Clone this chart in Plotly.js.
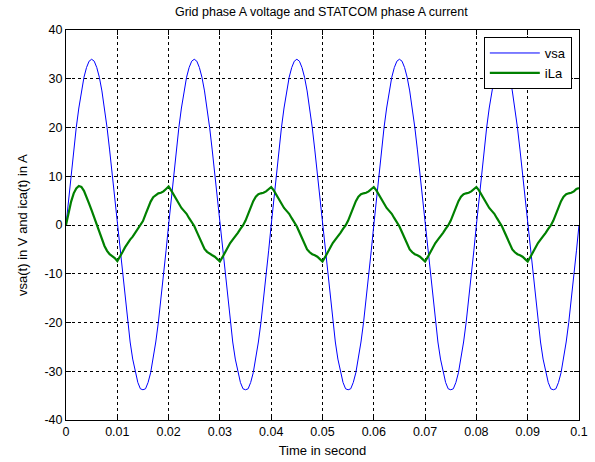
<!DOCTYPE html>
<html>
<head>
<meta charset="utf-8">
<script src="https://cdn.plot.ly/plotly-3.0.1.min.js"></script>
<style>html,body{margin:0;padding:0;background:#fff;}#chart{width:595px;height:462px;}</style>
</head>
<body>
<div id="chart"></div>
<script>
// Sample spacing 0.0005 s, starting at t = 0
var t0 = 0;
var dt = 0.0005;

// Grid phase A voltage (V)
var vsa = [
 0,5.3,10.5,15.4,20.0,24.0,27.5,30.3,32.3,33.6,34.0,33.6,32.3,30.3,27.5,24.0,20.0,15.4,10.5,5.3,
 0,-5.3,-10.5,-15.4,-20.0,-24.0,-27.5,-30.3,-32.3,-33.6,-33.8,-33.6,-32.3,-30.3,-27.5,-24.0,-20.0,-15.4,-10.5,-5.3,
 0,5.3,10.5,15.4,20.0,24.0,27.5,30.3,32.3,33.6,34.0,33.6,32.3,30.3,27.5,24.0,20.0,15.4,10.5,5.3,
 0,-5.3,-10.5,-15.4,-20.0,-24.0,-27.5,-30.3,-32.3,-33.6,-33.8,-33.6,-32.3,-30.3,-27.5,-24.0,-20.0,-15.4,-10.5,-5.3,
 0,5.3,10.5,15.4,20.0,24.0,27.5,30.3,32.3,33.6,34.0,33.6,32.3,30.3,27.5,24.0,20.0,15.4,10.5,5.3,
 0,-5.3,-10.5,-15.4,-20.0,-24.0,-27.5,-30.3,-32.3,-33.6,-33.8,-33.6,-32.3,-30.3,-27.5,-24.0,-20.0,-15.4,-10.5,-5.3,
 0,5.3,10.5,15.4,20.0,24.0,27.5,30.3,32.3,33.6,34.0,33.6,32.3,30.3,27.5,24.0,20.0,15.4,10.5,5.3,
 0,-5.3,-10.5,-15.4,-20.0,-24.0,-27.5,-30.3,-32.3,-33.6,-33.8,-33.6,-32.3,-30.3,-27.5,-24.0,-20.0,-15.4,-10.5,-5.3,
 0,5.3,10.5,15.4,20.0,24.0,27.5,30.3,32.3,33.6,34.0,33.6,32.3,30.3,27.5,24.0,20.0,15.4,10.5,5.3,
 0,-5.3,-10.5,-15.4,-20.0,-24.0,-27.5,-30.3,-32.3,-33.6,-33.8,-33.6,-32.3,-30.3,-27.5,-24.0,-20.0,-15.4,-10.5,-5.3,
 0
];

// STATCOM phase A current (A)
var iLa = [
 0,2.5,4.8,6.5,7.5,8.0,7.8,7.0,5.8,4.4,3.0,1.5,0.0,-1.5,-3.0,-4.3,-5.3,-6.0,-6.4,-6.8,
 -7.4,-6.6,-5.6,-4.6,-3.7,-3.0,-2.4,-1.6,-0.8,-0.2,0.8,2.2,3.6,4.8,5.7,6.2,6.5,6.6,6.9,7.4,
 7.9,7.1,6.2,5.2,4.3,3.5,2.9,2.3,1.4,0.6,-0.2,-1.4,-2.7,-3.9,-4.9,-5.5,-5.9,-6.2,-6.5,-7.0,
 -7.5,-6.6,-5.6,-4.6,-3.7,-3.0,-2.4,-1.6,-0.8,-0.1,0.9,2.3,3.7,4.9,5.8,6.3,6.5,6.6,6.9,7.4,
 7.8,7.1,6.2,5.2,4.3,3.5,2.9,2.3,1.4,0.6,-0.3,-1.5,-2.8,-4.0,-5.0,-5.6,-6.0,-6.2,-6.5,-7.0,
 -7.5,-6.6,-5.6,-4.6,-3.7,-3.0,-2.4,-1.6,-0.8,-0.1,0.9,2.3,3.7,4.9,5.8,6.3,6.5,6.6,6.9,7.4,
 7.8,7.1,6.2,5.2,4.3,3.5,2.9,2.3,1.4,0.6,-0.3,-1.5,-2.8,-4.0,-5.0,-5.6,-6.0,-6.2,-6.5,-7.0,
 -7.5,-6.6,-5.6,-4.6,-3.7,-3.0,-2.4,-1.6,-0.8,-0.1,0.9,2.3,3.7,4.9,5.8,6.3,6.5,6.6,6.9,7.4,
 7.8,7.1,6.2,5.2,4.3,3.5,2.9,2.3,1.4,0.6,-0.3,-1.5,-2.8,-4.0,-5.0,-5.6,-6.0,-6.2,-6.5,-7.0,
 -7.5,-6.6,-5.6,-4.6,-3.7,-3.0,-2.4,-1.6,-0.8,-0.1,0.9,2.3,3.7,4.9,5.8,6.3,6.5,6.6,6.9,7.4,
 7.6
];

var xTicks = [0,0.01,0.02,0.03,0.04,0.05,0.06,0.07,0.08,0.09,0.1];
var xTickLabels = ["0","0.01","0.02","0.03","0.04","0.05","0.06","0.07","0.08","0.09","0.1"];
var yTicks = [-40,-30,-20,-10,0,10,20,30,40];
var yTickLabels = ["-40","-30","-20","-10","0","10","20","30","40"];

var font = {family: "Liberation Sans, Arial, sans-serif", size: 12.5, color: "#000"};

var traces = [
  {type: "scatter", mode: "lines", name: "vsa", x0: t0, dx: dt, y: vsa,
   line: {color: "#0000ff", width: 1}},
  {type: "scatter", mode: "lines", name: "iLa", x0: t0, dx: dt, y: iLa,
   line: {color: "#008000", width: 2.2}}
];

var axisCommon = {
  showline: true, mirror: "ticks", linecolor: "#000", linewidth: 1,
  ticks: "inside", ticklen: 5, tickcolor: "#000",
  showgrid: true, gridcolor: "#000", gridwidth: 1, griddash: "3px,3px",
  zeroline: false, tickfont: font
};

var layout = {
  width: 595, height: 462,
  margin: {l: 66, r: 16, t: 30, b: 42},
  paper_bgcolor: "#fff", plot_bgcolor: "#fff",
  font: font,
  title: {text: "Grid phase A voltage and STATCOM phase A current", font: {family: font.family, size: 12.5, color: "#000"}, x: 0.54, xanchor: "center", y: 0.975, yanchor: "middle"},
  xaxis: Object.assign({}, axisCommon, {
    range: [0, 0.1], tickvals: xTicks, ticktext: xTickLabels,
    title: {text: "Time in second", font: {family: font.family, size: 13, color: "#000"}, standoff: 7}
  }),
  yaxis: Object.assign({}, axisCommon, {
    range: [-40, 40], tickvals: yTicks, ticktext: yTickLabels
  }),
  annotations: [{
    text: "vsa(t) in V and ica(t) in A", textangle: -90, showarrow: false,
    xref: "paper", yref: "paper", x: -0.0858, y: 0.5, xanchor: "center", yanchor: "middle",
    font: {family: font.family, size: 13, color: "#000"}
  }],
  showlegend: true,
  legend: {x: 0.986, xanchor: "right", y: 0.982, yanchor: "top", bgcolor: "#fff",
           bordercolor: "#000", borderwidth: 1, font: {family: font.family, size: 13, color: "#000"},
           tracegroupgap: 0, itemwidth: 50, entrywidth: 80}
};

Plotly.newPlot("chart", traces, layout, {displayModeBar: false, staticPlot: true});
</script>
</body>
</html>
